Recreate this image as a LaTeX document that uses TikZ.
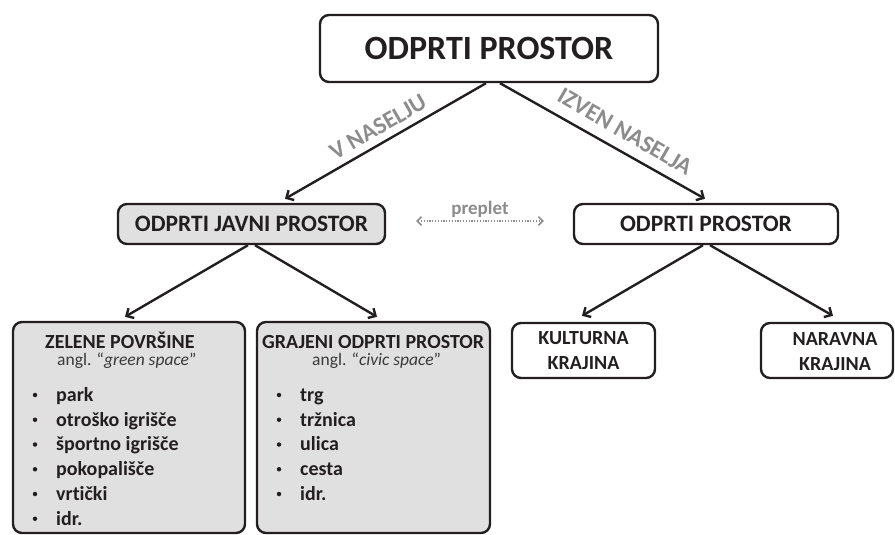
\documentclass[tikz,border=0pt]{standalone}
\usepackage{fontspec}
\setmainfont{Carlito}[Ligatures=CommonOff]
\usetikzlibrary{arrows.meta}
\definecolor{ink}{HTML}{231F20}
\definecolor{boxgray}{HTML}{E0E0E0}
\definecolor{lblgray}{HTML}{8C8C8C}
\definecolor{subgray}{HTML}{3A3A3A}
\tikzset{
  box/.style={draw=ink, line width=2.4pt, rounded corners=9pt, inner sep=0pt, align=center, text=ink},
  grayfill/.style={fill=boxgray},
  conn/.style={draw=ink, line width=2.4pt, -{Straight Barb[angle=90:8pt]}},
  link/.style={draw=lblgray, line width=1.6pt, dash pattern=on 1.2pt off 1.6pt, {Straight Barb[angle=90:6pt,line width=1.6pt]}-{Straight Barb[angle=90:6pt,line width=1.6pt]}},
  lbl/.style={text=lblgray, font=\bfseries\fontsize{24}{28}\selectfont, inner sep=0pt},
  head/.style={text=ink, font=\bfseries\fontsize{20}{24}\selectfont, inner sep=0pt, anchor=base west},
  sub/.style={text=subgray, font=\fontsize{17.5}{21}\selectfont, inner sep=0pt, anchor=base west},
  item/.style={text=ink, font=\bfseries\fontsize{20}{24}\selectfont, inner sep=0pt, anchor=base west},
  bul/.style={circle, fill=ink, inner sep=0pt, minimum size=4.5pt},
}
\begin{document}
\begin{tikzpicture}[x=1pt,y=-1pt]
\useasboundingbox (0,0) rectangle (895,535);

% boxes
\node[box, minimum width=338pt, minimum height=67pt, font=\bfseries\fontsize{34}{40}\selectfont] (top) at (489,48.5) {ODPRTI PROSTOR};
\node[box, grayfill, minimum width=267pt, minimum height=40pt, font=\bfseries\fontsize{23.5}{28}\selectfont] (mid1) at (251.5,224) {ODPRTI JAVNI PROSTOR};
\node[box, minimum width=264pt, minimum height=40pt, font=\bfseries\fontsize{23.5}{28}\selectfont] (mid2) at (706,224) {ODPRTI PROSTOR};
\node[box, grayfill, minimum width=232pt, minimum height=211pt] (green) at (129,427.5) {};
\node[box, grayfill, minimum width=233pt, minimum height=211pt] (civic) at (373.5,427.5) {};
\node[box, minimum width=143pt, minimum height=55pt, font=\bfseries\fontsize{20}{25}\selectfont] (kult) at (583.5,350.5) {KULTURNA\\KRAJINA};
\node[box, minimum width=132pt, minimum height=55pt] (nar) at (827,350.5) {};
\node[text=ink, inner sep=0pt, align=center, font=\bfseries\fontsize{20}{25}\selectfont] (nartext) at (835,352) {NARAVNA\\KRAJINA};

% connectors
\draw[conn] ([xshift=-3pt]top.south) -- ([xshift=33.5pt,yshift=4pt]mid1.north);
\draw[conn] ([xshift=11pt]top.south) -- ([xshift=-1pt,yshift=4pt]mid2.north);
\draw[conn] ([xshift=-3.5pt]mid1.south) -- ([xshift=-4pt,yshift=4pt]green.north);
\draw[conn] ([xshift=3.5pt]mid1.south) -- ([xshift=3.5pt,yshift=4pt]civic.north);
\draw[conn] ([xshift=-3pt]mid2.south) -- ([xshift=-1.5pt,yshift=6pt]kult.north);
\draw[conn] ([xshift=4pt]mid2.south) -- ([xshift=6pt,yshift=6pt]nar.north);

% preplet
\draw[link] ([xshift=30pt,yshift=3pt]mid1.east) -- node[above=3pt, text=lblgray, font=\bfseries\fontsize{19}{22}\selectfont, inner sep=0pt] (prep) {preplet} ([xshift=-29pt,yshift=3pt]mid2.west);

% arrow labels
\node[lbl, rotate=30] (vnas) at (378,127) {V NASELJU};
\node[lbl, rotate=-30] (izven) at (625,131.5) {IZVEN NASELJA};

% green space box content
\node[head] (gh) at (45,348) {ZELENE POVRŠINE};
\node[sub] (gs) at (57,365) {angl. “\textit{green space}”};
\foreach \t [count=\i] in {park, otroško igrišče, športno igrišče, pokopališče, vrtički, idr.}{
  \node[bul] (gb\i) at (35,{395+24.75*(\i-1)}) {};
  \node[item] (gi\i) at (56,{401.25+24.75*(\i-1)}) {\t};
}

% civic space box content
\node[head] (ch) at (262,348) {GRAJENI ODPRTI PROSTOR};
\node[sub] (cs) at (312,365) {angl. “\textit{civic space}”};
\foreach \t [count=\i] in {trg, tržnica, ulica, cesta, idr.}{
  \node[bul] (cb\i) at (279,{395+24.75*(\i-1)}) {};
  \node[item] (ci\i) at (300,{401.25+24.75*(\i-1)}) {\t};
}
\end{tikzpicture}
\end{document}
